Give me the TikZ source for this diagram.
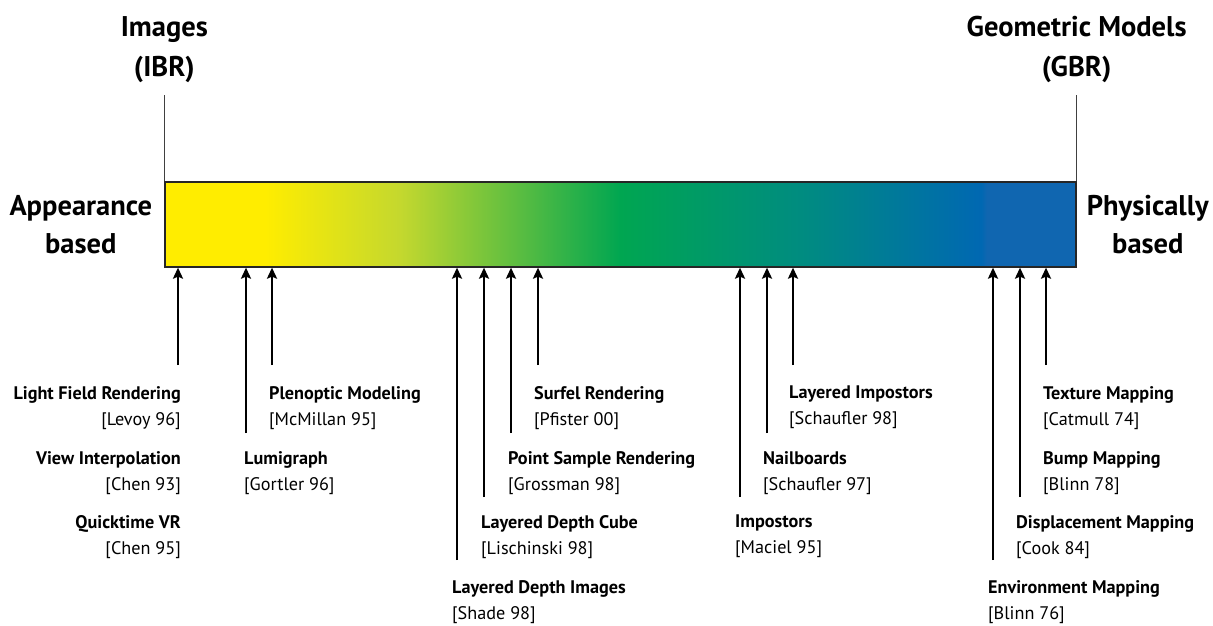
\documentclass[tikz,border=0pt]{standalone}
\usepackage{fontspec}
\setmainfont{PT Sans}
\usetikzlibrary{arrows.meta,positioning,calc}
\definecolor{ibryellow}{RGB}{255,237,0}
\definecolor{limegreen}{RGB}{196,216,46}
\definecolor{gbrgreen}{RGB}{0,166,81}
\definecolor{gbrteal}{RGB}{0,140,128}
\definecolor{gbrblue}{RGB}{0,104,178}
\definecolor{gbrflat}{RGB}{16,102,176}
\pgfdeclarehorizontalshading{spectrum}{100bp}{color(0bp)=(ibryellow); color(25bp)=(ibryellow); color(30.5bp)=(ibryellow); color(37.9bp)=(limegreen); color(50bp)=(gbrgreen); color(59.9bp)=(gbrteal); color(69.8bp)=(gbrblue); color(70.1bp)=(gbrflat); color(100bp)=(gbrflat)}
\newcommand{\src}[1]{[#1]}
\tikzset{
  bar/.style={draw=black!85, line width=1.3pt, shading=spectrum, minimum width=911pt, minimum height=85pt, inner sep=0pt},
  head/.style={font=\bfseries\fontsize{28.5}{40}\selectfont, align=center, inner sep=0pt},
  side/.style={font=\bfseries\fontsize{28.5}{38}\selectfont, align=center, inner sep=0pt},
  lbl/.style={font=\fontsize{18.2}{26}\selectfont, inner sep=0pt},
  arr/.style={line width=2.4pt, -{Stealth[length=11pt,width=10pt,inset=2pt]}}
}
\begin{document}
\begin{tikzpicture}[x=1pt,y=-1pt]
  \useasboundingbox (0,0) rectangle (1213,626);
    % the spectrum
    \node[bar] (bar) at (620.5,224.5) {};
    % ends of the scale
    \coordinate (ibrtop) at ([yshift=86pt]bar.north west);
    \coordinate (gbrtop) at ([yshift=86pt]bar.north east);
    \draw[black!75, line width=1pt] (bar.north west) -- (ibrtop);
    \draw[black!75, line width=1pt] (bar.north east) -- (gbrtop);
    \node[head, above=12pt of ibrtop] (ibr) {Images\\(IBR)};
    \node[head, above=12pt of gbrtop] (gbr) {Geometric Models\\(GBR)};
    \node[side, left=12pt of bar] (appear) {Appearance\\based};
    \node[side, right=10pt of bar] (phys) {Physically\\based};
    % image based side
    \node[lbl, anchor=north east, align=right] (lfr) at (181,386) {\textbf{Light Field Rendering}\\\src{Levoy 96}};
    \node[lbl, anchor=north east, align=right] (vip) at (181,451) {\textbf{View Interpolation}\\\src{Chen 93}};
    \node[lbl, anchor=north east, align=right] (qtvr) at (181,515) {\textbf{Quicktime VR}\\\src{Chen 95}};
    \node[lbl, anchor=north west, align=left] (plen) at (269,386) {\textbf{Plenoptic Modeling}\\\src{McMillan 95}};
    \node[lbl, anchor=north west, align=left] (lumi) at (244,451) {\textbf{Lumigraph}\\\src{Gortler 96}};
    % point and layered depth
    \node[lbl, anchor=north west, align=left] (surfel) at (534,386) {\textbf{Surfel Rendering}\\\src{Pfister 00}};
    \node[lbl, anchor=north west, align=left] (psr) at (508,451) {\textbf{Point Sample Rendering}\\\src{Grossman 98}};
    \node[lbl, anchor=north west, align=left] (ldc) at (481,515) {\textbf{Layered Depth Cube}\\\src{Lischinski 98}};
    \node[lbl, anchor=north west, align=left] (ldi) at (452,580) {\textbf{Layered Depth Images}\\\src{Shade 98}};
    % impostors
    \node[lbl, anchor=north west, align=left] (limp) at (789,386) {\textbf{Layered Impostors}\\\src{Schaufler 98}};
    \node[lbl, anchor=north west, align=left] (nail) at (763,451) {\textbf{Nailboards}\\\src{Schaufler 97}};
    \node[lbl, anchor=north west, align=left] (imp) at (735,515) {\textbf{Impostors}\\\src{Maciel 95}};
    % geometry based side
    \node[lbl, anchor=north west, align=left] (texm) at (1043,386) {\textbf{Texture Mapping}\\\src{Catmull 74}};
    \node[lbl, anchor=north west, align=left] (bump) at (1043,451) {\textbf{Bump Mapping}\\\src{Blinn 78}};
    \node[lbl, anchor=north west, align=left] (disp) at (1016,515) {\textbf{Displacement Mapping}\\\src{Cook 84}};
    \node[lbl, anchor=north west, align=left] (envm) at (988,580) {\textbf{Environment Mapping}\\\src{Blinn 76}};
    % arrow feet
    \coordinate (lfrfoot) at ([xshift=-3pt,yshift=21pt]lfr.north east);
    \coordinate (plenfoot) at ([xshift=3pt,yshift=21pt]plen.north west);
    \coordinate (lumifoot) at ([xshift=2pt,yshift=18pt]lumi.north west);
    \coordinate (surfelfoot) at ([xshift=4pt,yshift=21pt]surfel.north west);
    \coordinate (psrfoot) at ([xshift=3pt,yshift=18pt]psr.north west);
    \coordinate (ldcfoot) at ([xshift=3pt,yshift=18pt]ldc.north west);
    \coordinate (ldifoot) at ([xshift=5pt,yshift=20pt]ldi.north west);
    \coordinate (limpfoot) at ([xshift=4pt,yshift=21pt]limp.north west);
    \coordinate (nailfoot) at ([xshift=4pt,yshift=18pt]nail.north west);
    \coordinate (impfoot) at ([xshift=5pt,yshift=18pt]imp.north west);
    \coordinate (texmfoot) at ([xshift=3pt,yshift=21pt]texm.north west);
    \coordinate (dispfoot) at ([xshift=4pt,yshift=18pt]disp.north west);
    \coordinate (envmfoot) at ([xshift=5pt,yshift=20pt]envm.north west);
    % arrows up to the spectrum
    \draw[arr] (lfrfoot) -- (lfrfoot |- bar.south);
    \draw[arr] (plenfoot) -- (plenfoot |- bar.south);
    \draw[arr] (lumifoot) -- (lumifoot |- bar.south);
    \draw[arr] (surfelfoot) -- (surfelfoot |- bar.south);
    \draw[arr] (psrfoot) -- (psrfoot |- bar.south);
    \draw[arr] (ldcfoot) -- (ldcfoot |- bar.south);
    \draw[arr] (ldifoot) -- (ldifoot |- bar.south);
    \draw[arr] (limpfoot) -- (limpfoot |- bar.south);
    \draw[arr] (nailfoot) -- (nailfoot |- bar.south);
    \draw[arr] (impfoot) -- (impfoot |- bar.south);
    \draw[arr] (texmfoot) -- (texmfoot |- bar.south);
    \draw[arr] (dispfoot) -- (dispfoot |- bar.south);
    \draw[arr] (envmfoot) -- (envmfoot |- bar.south);
  \end{tikzpicture}
\end{document}
